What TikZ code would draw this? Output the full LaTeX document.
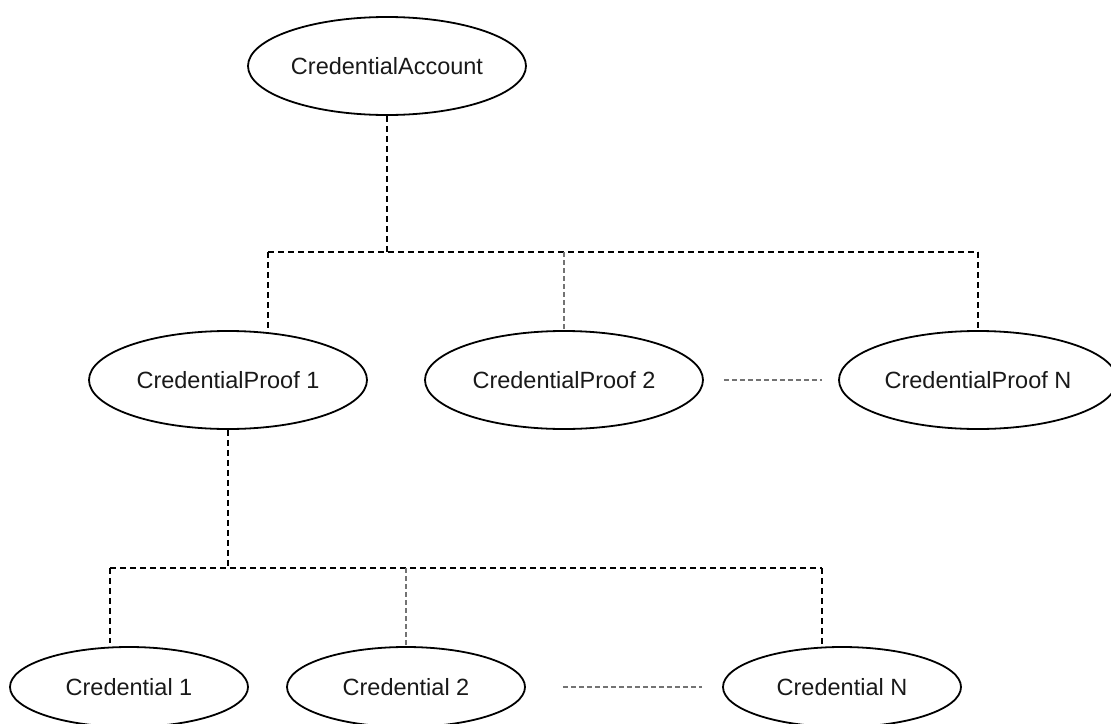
\documentclass[tikz,border=0pt]{standalone}
\usepackage{fontspec}
\setmainfont{Liberation Sans}
\usetikzlibrary{shapes.geometric}
\begin{document}
\begin{tikzpicture}[x=1pt,y=-1pt,
  entity/.style={draw=black,line width=1.8pt,ellipse,inner sep=0pt,
    font=\fontsize{23.5}{28}\selectfont,text=black!90},
  big/.style={entity,minimum width=278pt,minimum height=98pt},
  small/.style={entity,minimum width=238pt,minimum height=80pt},
  link/.style={draw=black,line width=1.5pt,dash pattern=on 6pt off 4pt},
  softlink/.style={draw=black!55,line width=2.6pt,dash pattern=on 5pt off 3pt}]
\useasboundingbox (0,0) rectangle (1111,723);
\clip (0,0) rectangle (1111,723);

% root
\node[big] (acc) at (387,66) {CredentialAccount};

% proofs
\node[big] (p1) at (228,380) {CredentialProof 1};
\node[big] (p2) at (564,380) {CredentialProof 2};
\node[big] (pN) at (978,380) {CredentialProof N};

% credentials
\node[small] (c1) at (129,687) {Credential 1};
\node[small] (c2) at (406,687) {Credential 2};
\node[small] (cN) at (842,687) {Credential N};

% root -> proofs
\coordinate (hubA) at (387,252);
\coordinate (tA1) at (268,252);
\coordinate (tAN) at (978,252);
\draw[link] (acc.south) -- (hubA);
\draw[link] (tA1) -- (tAN);
\draw[link] (tA1) -- ([yshift=2pt]tA1 |- p1.north);
\draw[softlink] (p2.north |- hubA) -- (p2.north);
\draw[link] (tAN) -- (pN.north);
\draw[softlink] (p2.east) [shorten <=20pt,shorten >=16pt] -- (pN.west);

% proof 1 -> credentials
\coordinate (hubB) at (228,568);
\coordinate (tB1) at (110,568);
\coordinate (tBN) at (822,568);
\draw[link] (p1.south) -- (hubB);
\draw[link] (tB1) -- (tBN);
\draw[link] (tB1) -- ([yshift=3pt]tB1 |- c1.north);
\draw[softlink] (c2.north |- hubB) -- (c2.north);
\draw[link] (tBN) -- ([yshift=2pt]tBN |- cN.north);
\draw[softlink] (c2.east) [shorten <=37pt,shorten >=20pt] -- (cN.west);
\end{tikzpicture}
\end{document}
